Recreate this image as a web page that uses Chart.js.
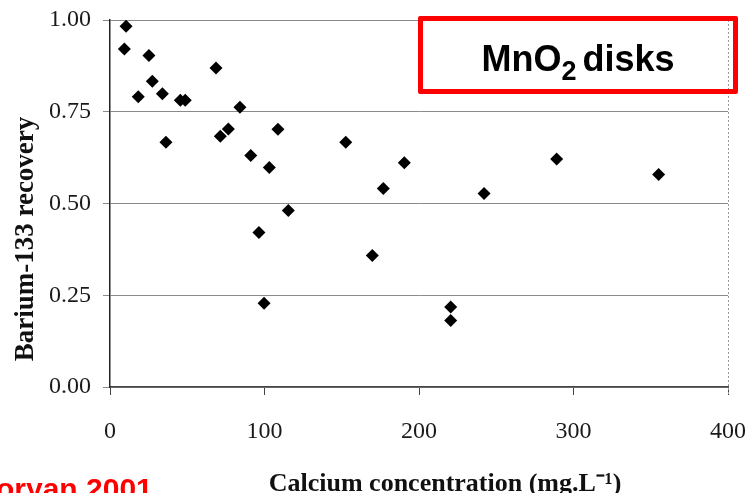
<!DOCTYPE html>
<html>
<head>
<meta charset="utf-8">
<script src="https://cdn.jsdelivr.net/npm/chart.js@4.4.1/dist/chart.umd.min.js"></script>
<style>
  html, body { margin:0; padding:0; background:#fff; }
  #wrap { position:relative; width:752px; height:493px; overflow:hidden; }
  canvas { position:absolute; left:0; top:0; }
  #box { position:absolute; left:418px; top:16px; width:310px; height:68px; border:5px solid #ff0000; border-radius:2px;
         font-family:"Liberation Sans", Arial, sans-serif; font-weight:bold; font-size:36px; color:#000;
         display:flex; align-items:center; justify-content:center; }
  #box span { position:relative; top:4px; }
  #box sub { font-size:27px; vertical-align:-9px; line-height:0; margin-right:6px; }
  #cite { position:absolute; left:-4px; top:474px; font-family:"Liberation Sans", Arial, sans-serif; font-weight:bold;
          font-size:30px; color:#ff0000; white-space:nowrap; line-height:1; }
</style>
</head>
<body>
<div id="wrap">
  <canvas id="c" width="752" height="493"></canvas>
  <div id="box"><span>MnO<sub>2</sub>disks</span></div>
  <div id="cite">oryan 2001</div>
</div>
<script>
// Data
const calcium = [10.4, 9.3, 25.2, 18.3, 27.4, 33.9, 36.2, 45.5, 48.7, 68.6, 71.4, 76.6, 84.1, 91.1, 103.1, 108.7, 115.4, 96.4, 152.6, 99.7, 169.8, 176.9, 190.5, 242.1, 289.1, 355.1, 220.5, 220.5];
const recovery = [0.983, 0.921, 0.903, 0.791, 0.833, 0.799, 0.667, 0.781, 0.781, 0.869, 0.683, 0.703, 0.762, 0.631, 0.598, 0.702, 0.481, 0.421, 0.667, 0.228, 0.358, 0.541, 0.611, 0.527, 0.621, 0.579, 0.218, 0.181];
const xTicks = [0, 100, 200, 300, 400];
const yTicks = [0, 0.25, 0.5, 0.75, 1.0];
const yTitle = 'Barium-133 recovery';
const xTitle = 'Calcium concentration (mg.L\u207B\u00B9)';

const points = calcium.map((x, i) => ({ x: x, y: recovery[i] }));
const serif = '"Liberation Serif", "Times New Roman", serif';

const decor = {
  id: 'decor',
  afterDraw(chart) {
    const ctx = chart.ctx, a = chart.chartArea;
    ctx.save();
    // right border (dotted)
    ctx.strokeStyle = '#999';
    ctx.lineWidth = 1;
    ctx.setLineDash([2, 2]);
    ctx.beginPath();
    ctx.moveTo(a.right + 0.5, a.top);
    ctx.lineTo(a.right + 0.5, a.bottom + 8);
    ctx.stroke();
    ctx.setLineDash([]);
    // axis titles
    ctx.fillStyle = '#111';
    ctx.font = 'bold 27px ' + serif;
    ctx.textAlign = 'center';
    ctx.textBaseline = 'middle';
    ctx.save();
    ctx.translate(26, 239);
    ctx.rotate(-Math.PI / 2);
    ctx.fillText(yTitle, 0, 0);
    ctx.restore();
    ctx.font = 'bold 26px ' + serif;
    ctx.textBaseline = 'alphabetic';
    ctx.fillText(xTitle, 445, 491);
    ctx.restore();
  }
};

new Chart(document.getElementById('c'), {
  type: 'scatter',
  data: {
    datasets: [{
      data: points,
      pointStyle: 'rectRot',
      pointRadius: 6.5,
      pointHoverRadius: 6.5,
      backgroundColor: '#000',
      borderColor: '#000',
      borderWidth: 0
    }]
  },
  plugins: [decor],
  options: {
    responsive: false,
    animation: false,
    events: [],
    layout: { padding: { left: 0, right: 24, top: 20, bottom: 0 } },
    plugins: { legend: { display: false }, tooltip: { enabled: false } },
    scales: {
      x: {
        type: 'linear',
        min: 0, max: 400,
        afterBuildTicks(s) { s.ticks = xTicks.map(v => ({ value: v })); },
        afterFit(s) { s.height = 106; s.paddingLeft = 0; s.paddingRight = 0; },
        ticks: { font: { family: serif, size: 24 }, color: '#1a1a1a', padding: 22, maxRotation: 0,
                 callback: v => String(v) },
        grid: { drawOnChartArea: false, drawTicks: true, tickLength: 8, color: '#444', lineWidth: 1 },
        border: { display: true, color: '#444', width: 1.5 }
      },
      y: {
        type: 'linear',
        min: 0, max: 1,
        afterBuildTicks(s) { s.ticks = yTicks.map(v => ({ value: v })); },
        afterFit(s) { s.width = 110; s.paddingTop = 0; s.paddingBottom = 0; },
        ticks: { font: { family: serif, size: 24 }, color: '#1a1a1a', padding: 12,
                 callback: v => Number(v).toFixed(2) },
        grid: { drawOnChartArea: true, drawTicks: true, tickLength: 7, color: '#8a8a8a', lineWidth: 1 },
        border: { display: true, color: '#222', width: 1.5 }
      }
    }
  }
});
</script>
</body>
</html>
